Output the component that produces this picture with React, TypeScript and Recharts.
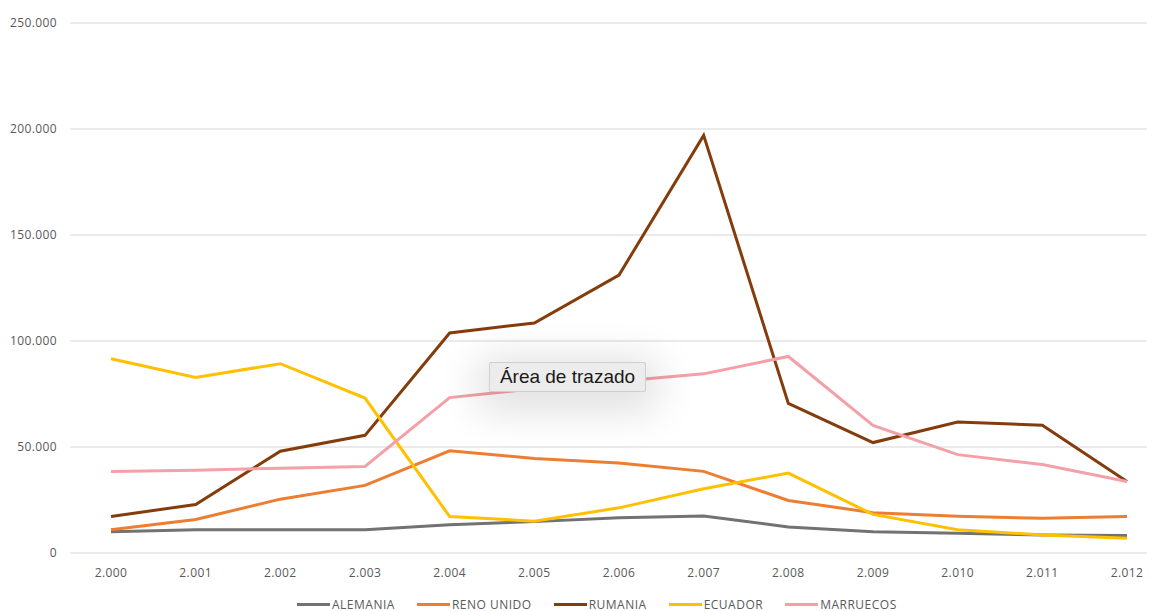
import { LineChart, Line, XAxis, YAxis, CartesianGrid } from "recharts"

const years = ["2.000", "2.001", "2.002", "2.003", "2.004", "2.005", "2.006", "2.007", "2.008", "2.009", "2.010", "2.011", "2.012"]

const alemania = [10000, 11000, 11000, 11000, 13300, 14800, 16600, 17400, 12300, 10000, 9300, 8500, 8200]
const renoUnido = [11000, 15800, 25400, 31900, 48200, 44600, 42500, 38500, 24800, 19000, 17300, 16400, 17200]
const rumania = [17200, 22900, 48000, 55500, 103800, 108500, 131100, 197000, 70600, 52100, 61800, 60300, 33700]
const ecuador = [91600, 82800, 89300, 73100, 17200, 15000, 21300, 30300, 37700, 18200, 11000, 8500, 6900]
const marruecos = [38400, 39000, 40000, 40800, 73300, 77500, 81000, 84500, 92700, 60200, 46400, 41700, 33700]

const yTicks = [0, 50000, 100000, 150000, 200000, 250000]

const series = [
  { key: "alemania", name: "ALEMANIA", color: "#727272", values: alemania },
  { key: "renoUnido", name: "RENO UNIDO", color: "#ED7D31", values: renoUnido },
  { key: "rumania", name: "RUMANIA", color: "#843C0C", values: rumania },
  { key: "ecuador", name: "ECUADOR", color: "#FFC000", values: ecuador },
  { key: "marruecos", name: "MARRUECOS", color: "#F4A0A8", values: marruecos },
]

const data = years.map((year, i) => {
  const row: Record<string, string | number> = { year }
  series.forEach((s) => {
    row[s.key] = s.values[i]
  })
  return row
})

const fmt = (v: number) => String(v).replace(/\B(?=(\d{3})+(?!\d))/g, ".")

const font = "'Open Sans', sans-serif"
const tick = { fill: "#595959", fontSize: 12, fontFamily: font, letterSpacing: 0.4 }

export default function App() {
  return (
    <div style={{ position: "relative", margin: "-8px 0 0 -8px", width: 1155, height: 611, background: "#fff" }}>
      <LineChart width={1160} height={611} data={data} margin={{ top: 23, right: 0, bottom: 28, left: 0 }}>
        <CartesianGrid vertical={false} stroke="#e3e3e3" strokeWidth={1.5} />
        <XAxis
          dataKey="year"
          axisLine={false}
          tickLine={false}
          height={30}
          tickSize={6}
          tickMargin={9}
          tick={tick}
          padding={{ left: 41, right: 33 }}
        />
        <YAxis
          width={70}
          domain={[0, 250000]}
          ticks={yTicks}
          axisLine={false}
          tickLine={false}
          tickSize={6}
          tickMargin={7}
          tick={tick}
          tickFormatter={fmt}
        />
        {series.map((s) => (
          <Line
            key={s.key}
            dataKey={s.key}
            name={s.name}
            stroke={s.color}
            strokeWidth={3}
            dot={false}
            type="linear"
            isAnimationActive={false}
          />
        ))}
      </LineChart>

      <div
        style={{
          position: "absolute",
          top: 596,
          left: 297,
          display: "flex",
          alignItems: "center",
          fontFamily: font,
          fontSize: 12,
          letterSpacing: 0.5,
          color: "#595959",
          whiteSpace: "nowrap",
        }}
      >
        {series.map((s) => (
          <div key={s.key} style={{ display: "flex", alignItems: "center", marginRight: 22 }}>
            <span style={{ display: "inline-block", width: 33, height: 3, background: s.color, marginRight: 2 }} />
            <span>{s.name}</span>
          </div>
        ))}
      </div>

      <div
        style={{
          position: "absolute",
          left: 489,
          top: 362,
          width: 157,
          height: 30,
          boxSizing: "border-box",
          background: "#ececec",
          border: "1px solid #cfcfcf",
          borderRadius: 2,
          boxShadow: "0 8px 40px 12px rgba(0,0,0,0.12)",
          fontFamily: "'Liberation Sans', Arial, sans-serif",
          fontSize: 19,
          color: "#1a1a1a",
          lineHeight: "28px",
          textAlign: "center",
        }}
      >
        Área de trazado
      </div>
    </div>
  )
}
